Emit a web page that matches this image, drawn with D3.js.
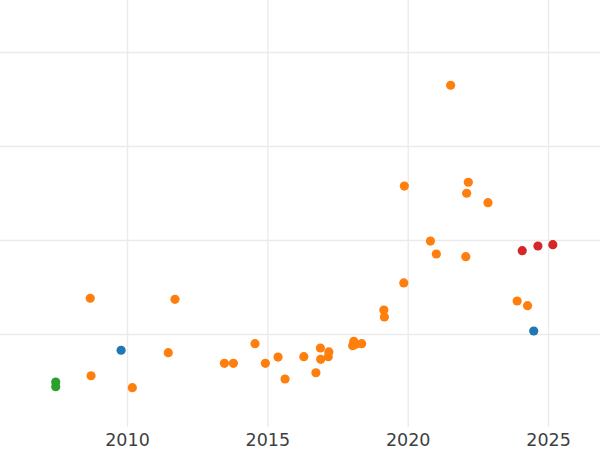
<!DOCTYPE html>
<html>
<head>
<meta charset="utf-8">
<script src="https://cdn.jsdelivr.net/npm/d3@7"></script>
<style>
  html, body { margin: 0; padding: 0; background: #ffffff; }
  svg { display: block; }
</style>
</head>
<body>
<svg id="chart" width="600" height="450"></svg>
<script>
// ---- data (x = year, y = value in grid units) ----
const orangeYears = [2008.69, 2011.71, 2011.47, 2008.72, 2010.19, 2014.56, 2013.47, 2013.79, 2014.93,
  2015.38, 2015.63, 2016.30, 2016.73, 2016.89, 2016.90, 2017.19, 2017.17, 2018.08, 2018.04, 2018.15,
  2018.36, 2019.88, 2022.16, 2022.10, 2022.86, 2020.81, 2021.02, 2022.07, 2019.86, 2019.15, 2019.17,
  2023.90, 2024.27, 2021.53];
const orangeValues = [1.380, 1.369, 0.801, 0.556, 0.429, 0.897, 0.688, 0.688, 0.688,
  0.755, 0.521, 0.759, 0.588, 0.851, 0.731, 0.809, 0.759, 0.922, 0.876, 0.890,
  0.897, 2.574, 2.614, 2.497, 2.397, 1.989, 1.851, 1.822, 1.543, 1.255, 1.181,
  1.351, 1.301, 3.646];
const blueYears = [2009.79, 2024.49];
const blueValues = [0.827, 1.032];
const greenYears = [2007.46, 2007.46];
const greenValues = [0.489, 0.439];
const redYears = [2024.08, 2024.64, 2025.17];
const redValues = [1.886, 1.936, 1.950];
const xTicks = [2010, 2015, 2020, 2025];
const yGrid = [1, 2, 3, 4];

const series = [
  { color: "#ff7f0e", xs: orangeYears, ys: orangeValues },
  { color: "#1f77b4", xs: blueYears, ys: blueValues },
  { color: "#2ca02c", xs: greenYears, ys: greenValues },
  { color: "#d62728", xs: redYears, ys: redValues }
];

const W = 600, plotBottom = 428;
const svg = d3.select("#chart");
const x = d3.scaleLinear().domain([2005.4756, 2026.851]).range([0, W]);
const y = d3.scaleLinear().domain([0, 4.553]).range([plotBottom, 0]);

// horizontal grid
const gy = svg.append("g").attr("class", "ygrid")
  .call(d3.axisLeft(y).tickValues(yGrid).tickSize(-W).tickFormat(""))
  .attr("transform", "translate(0,0)");
gy.select(".domain").remove();
gy.selectAll("line").attr("stroke", "#ebebeb").attr("stroke-width", 1.4);

// vertical grid + labels
const gx = svg.append("g").attr("class", "xaxis")
  .attr("transform", `translate(0,${plotBottom - 1})`)
  .call(d3.axisBottom(x).tickValues(xTicks).tickSize(-(plotBottom - 1)).tickPadding(7).tickFormat(d3.format("d")));
gx.select(".domain").remove();
gx.selectAll("line").attr("stroke", "#ebebeb").attr("stroke-width", 1.4);
gx.selectAll("text")
  .attr("font-family", "DejaVu Sans, sans-serif")
  .attr("font-size", 17.5)
  .attr("fill", "#3f3f3f");

// points
series.forEach(s => {
  const pts = s.xs.map((v, i) => [v, s.ys[i]]);
  svg.append("g").selectAll("circle").data(pts).join("circle")
    .attr("cx", d => x(d[0]))
    .attr("cy", d => y(d[1]))
    .attr("r", 4.6)
    .attr("fill", s.color);
});
</script>
</body>
</html>
